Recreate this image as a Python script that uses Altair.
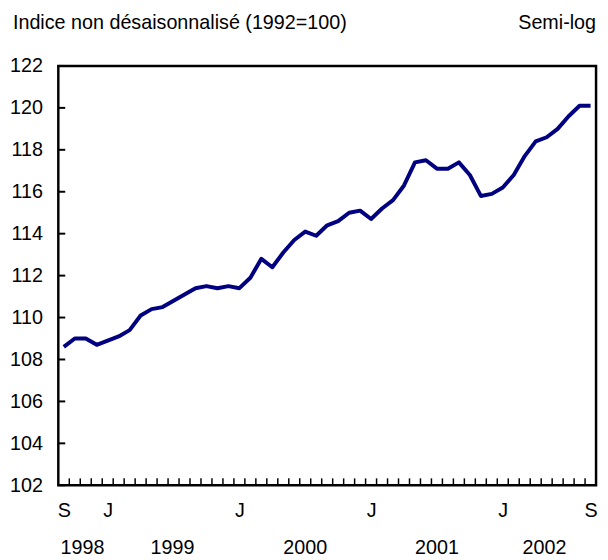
import altair as alt
import pandas as pd

# Monthly index, September 1998 (index 0) to September 2002 (index 48)
month_index = list(range(49))
values = [108.6, 109.0, 109.0, 108.7, 108.9, 109.1, 109.4, 110.1, 110.4, 110.5,
          110.8, 111.1, 111.4, 111.5, 111.4, 111.5, 111.4, 111.9, 112.8, 112.4,
          113.1, 113.7, 114.1, 113.9, 114.4, 114.6, 115.0, 115.1, 114.7, 115.2,
          115.6, 116.3, 117.4, 117.5, 117.1, 117.1, 117.4, 116.8, 115.8, 115.9,
          116.2, 116.8, 117.7, 118.4, 118.6, 119.0, 119.6, 120.1, 120.1]

month_label_pos = [0, 4, 16, 28, 40, 48]
month_labels = ["S", "J", "J", "J", "J", "S"]

year_labels = ["1998", "1999", "2000", "2001", "2002"]
year_pos = [1.7, 9.9, 22.0, 34.0, 43.8]

y_ticks = list(range(102, 123, 2))
x_minor_ticks = [i + 0.5 for i in range(48)]

title_left = "Indice non désaisonnalisé (1992=100)"
title_right = "Semi-log"

FONT = "Liberation Sans"
FS = 20
W, H = 545, 425

df = pd.DataFrame({"m": month_index, "v": values})
df_xt = pd.DataFrame({"m": x_minor_ticks})
df_yt = pd.DataFrame({"v": y_ticks})
df_years = pd.DataFrame({"m": year_pos, "label": year_labels})

label_map = "{" + ",".join(f"'{p}':'{l}'" for p, l in zip(month_label_pos, month_labels)) + "}"

xscale = alt.Scale(domain=[-0.5, 48.5], nice=False, zero=False)
yscale = alt.Scale(domain=[102, 122], nice=False, zero=False)

xaxis = alt.Axis(values=month_label_pos, labelExpr=f"{label_map}[datum.value]",
                 ticks=False, domain=False, grid=False, labelPadding=16,
                 labelFontSize=FS, labelFont=FONT, labelColor="black")
yaxis = alt.Axis(values=y_ticks, ticks=False, domain=False, grid=False,
                 labelPadding=16, labelFontSize=FS, labelFont=FONT,
                 labelColor="black", labelBaseline="middle")

line = alt.Chart(df).mark_line(color="#000080", strokeWidth=4, strokeJoin="round").encode(
    x=alt.X("m:Q", scale=xscale, title=None, axis=xaxis),
    y=alt.Y("v:Q", scale=yscale, title=None, axis=yaxis),
)

xticks = alt.Chart(df_xt).mark_rule(color="black", strokeWidth=1.5).encode(
    x=alt.X("m:Q", scale=xscale, title=None, axis=xaxis),
    y=alt.value(H), y2=alt.value(H - 7),
)

yticks = alt.Chart(df_yt).mark_rule(color="black", strokeWidth=2).encode(
    y=alt.Y("v:Q", scale=yscale, title=None, axis=yaxis),
    x=alt.value(0), x2=alt.value(7),
)

years = alt.Chart(df_years).mark_text(font=FONT, fontSize=FS, color="black",
                                      baseline="middle", align="center").encode(
    x=alt.X("m:Q", scale=xscale, title=None, axis=xaxis),
    y=alt.value(H + 64),
    text="label:N",
)

t_left = alt.Chart(pd.DataFrame({"t": [title_left]})).mark_text(
    font=FONT, fontSize=FS, color="black", align="left", baseline="middle").encode(
    x=alt.value(-46), y=alt.value(-43), text="t:N")

t_right = alt.Chart(pd.DataFrame({"t": [title_right]})).mark_text(
    font=FONT, fontSize=FS, color="black", align="right", baseline="middle").encode(
    x=alt.value(W), y=alt.value(-43), text="t:N")

chart = alt.layer(line, xticks, yticks, years, t_left, t_right).properties(
    width=W, height=H,
    autosize=alt.AutoSizeParams(type="none"),
    padding={"left": 51, "top": 55, "right": 4, "bottom": 72},
).configure(background="white").configure_view(stroke="black", strokeWidth=2.5)

chart.save("out.html", embed_options={"renderer": "svg", "actions": False})
